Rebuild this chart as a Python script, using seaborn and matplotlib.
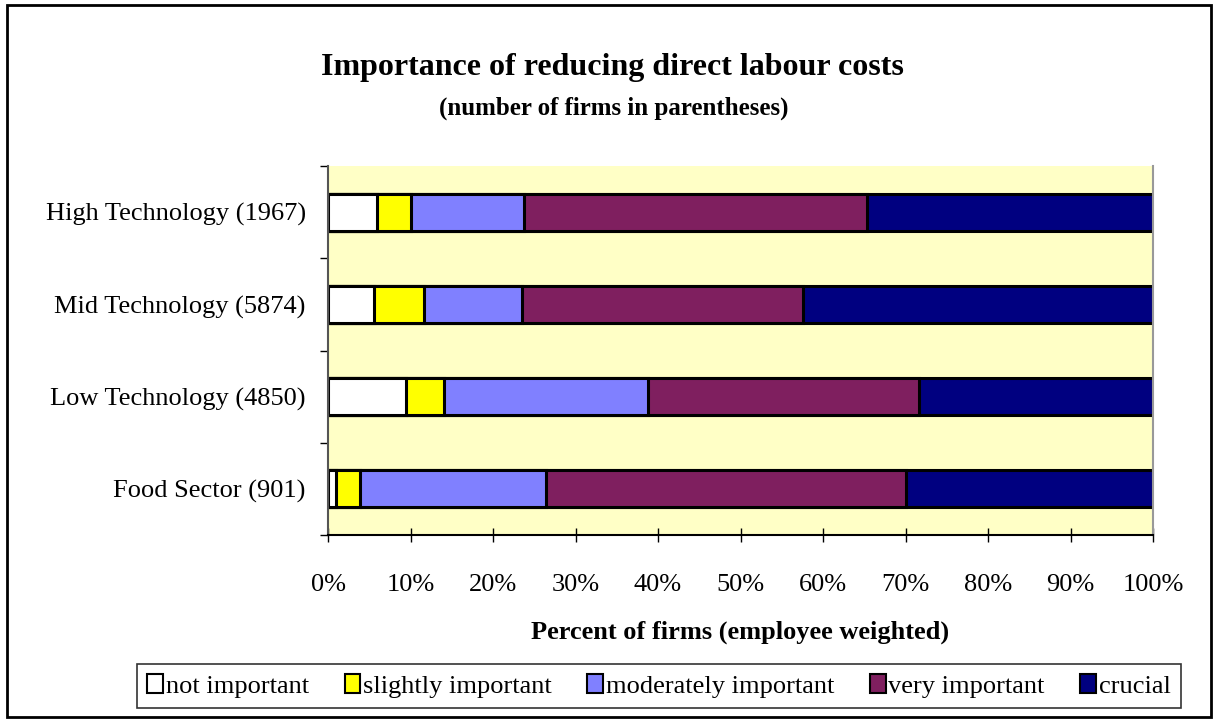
import matplotlib
matplotlib.use("Agg")
import matplotlib.pyplot as plt
import matplotlib.patches as mpatches
import seaborn as sns
import numpy as np
import pandas as pd

categories = ["High Technology (1967)", "Mid Technology (5874)",
              "Low Technology (4850)", "Food Sector (901)"]
series_names = ["not important", "slightly important", "moderately important",
                "very important", "crucial"]
not_important = [5.9, 5.6, 9.4, 1.0]
slightly_important = [4.2, 6.0, 4.7, 2.9]
moderately_important = [13.6, 11.9, 24.7, 22.5]
very_important = [41.6, 34.1, 32.8, 43.7]
crucial = [34.7, 42.4, 28.4, 29.9]
x_ticks = [0, 10, 20, 30, 40, 50, 60, 70, 80, 90, 100]
x_ticklabels = ["0%", "10%", "20%", "30%", "40%", "50%", "60%", "70%", "80%", "90%", "100%"]

colors = ["#FFFFFF", "#FFFF00", "#8080FF", "#7F1F5F", "#000080"]

sns.set_theme(style="white")
plt.rcParams["font.family"] = ["Liberation Serif", "DejaVu Serif"]
plt.rcParams["text.color"] = "black"
plt.rcParams["axes.labelcolor"] = "black"
plt.rcParams["xtick.color"] = "black"
plt.rcParams["ytick.color"] = "black"

fig = plt.figure(figsize=(12.18, 7.22), dpi=100)
ax = fig.add_axes([328 / 1218, 1 - 535 / 722, (1153 - 328) / 1218, (535 - 166) / 722])
ax.set_facecolor("#FFFFC6")

series = [not_important, slightly_important, moderately_important, very_important, crucial]
cum = np.cumsum(np.array(series), axis=0)
df = pd.DataFrame({"category": categories})
for i in range(len(series) - 1, -1, -1):
    df["v"] = cum[i]
    sns.barplot(data=df, x="v", y="category", orient="h", color=colors[i],
                saturation=1, width=0.4, edgecolor="black", linewidth=2.2, ax=ax)

ax.set_xlim(0, 100)
ax.set_ylim(3.5, -0.5)
ax.set_xticks(x_ticks)
ax.set_xticklabels(x_ticklabels, fontsize=19)
ax.tick_params(axis="x", direction="inout", length=10, width=1, color="black",
               pad=23, bottom=True, labelcolor="black")
ax.set_yticks(range(len(categories)))
ax.set_yticklabels(categories, fontsize=19)
ax.tick_params(axis="y", which="major", length=0, pad=16, labelcolor="black")
ax.set_yticks(np.arange(-0.5, 4.0, 1.0), minor=True)
ax.tick_params(axis="y", which="minor", direction="out", length=6, width=1,
               color="black", left=True)
ax.set_xlabel("Percent of firms (employee weighted)", fontsize=19,
              fontweight="bold", labelpad=18, color="black")
ax.set_ylabel("")

ax.spines["top"].set_visible(False)
ax.spines["right"].set_color("#999999")
ax.spines["right"].set_linewidth(1.5)
ax.spines["left"].set_color("#555555")
ax.spines["left"].set_linewidth(1.5)
ax.spines["bottom"].set_color("black")
ax.spines["bottom"].set_linewidth(1.5)

fig.text(612 / 1218, 1 - 68 / 722, "Importance of reducing direct labour costs",
         ha="center", va="center", fontsize=23, fontweight="bold", color="black")
fig.text(614 / 1218, 1 - 108 / 722, "(number of firms in parentheses)",
         ha="center", va="center", fontsize=18, fontweight="bold", color="black")

handles = [mpatches.Patch(facecolor=c, edgecolor="black", linewidth=1.5) for c in colors]
leg = fig.legend(handles, series_names, loc="center", ncol=5,
                 bbox_to_anchor=(659 / 1218, 1 - 686 / 722), fontsize=19,
                 frameon=True, fancybox=False, edgecolor="black",
                 handlelength=0.6, handleheight=0.7, handletextpad=0.1,
                 columnspacing=1.35, borderpad=0.4)
leg.get_frame().set_linewidth(1.2)
for t in leg.get_texts():
    t.set_color("black")

border = mpatches.Rectangle((7 / 1218, 5 / 722), 1 - 14 / 1218, 1 - 10 / 722,
                            transform=fig.transFigure, fill=False,
                            edgecolor="black", linewidth=2)
fig.patches.append(border)

fig.savefig("out.png", dpi=100, facecolor="white")
